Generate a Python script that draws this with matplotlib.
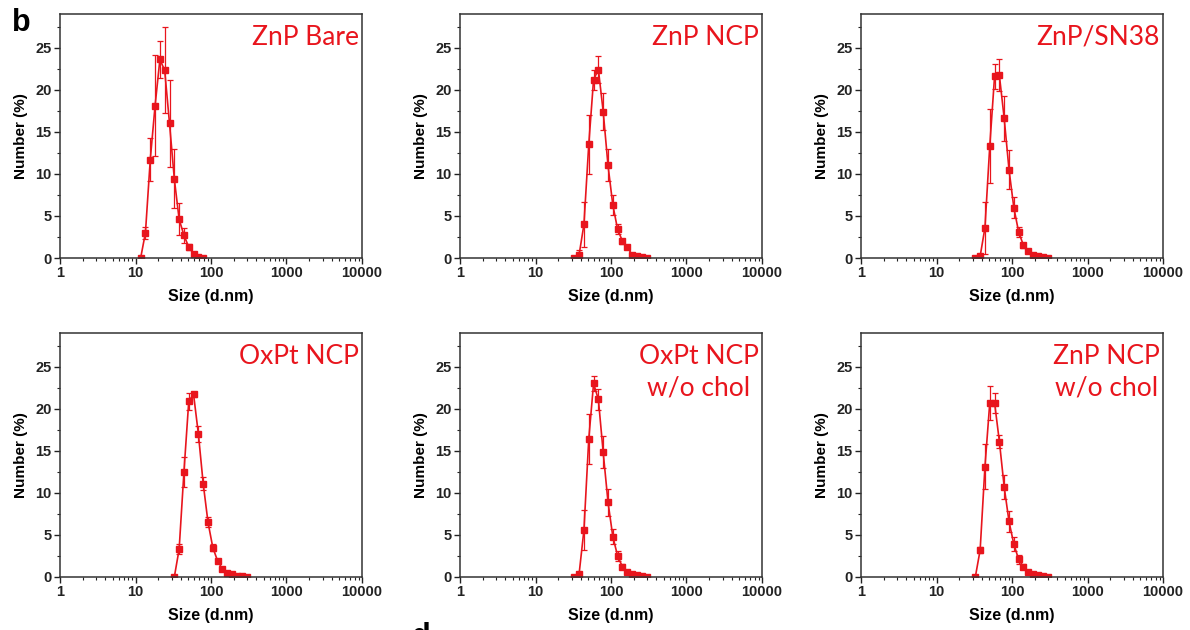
import matplotlib
matplotlib.use("Agg")
import matplotlib.pyplot as plt
from matplotlib.ticker import LogLocator, FixedLocator, NullFormatter

plt.rcParams['font.family'] = ['Liberation Sans', 'DejaVu Sans']

# hydrodynamic size bins (d.nm)
size_bare = [11.7, 13.54, 15.69, 18.17, 21.04, 24.36, 28.21, 32.67, 37.84, 43.82, 50.75, 58.77, 68.06, 78.82]
size_ncp = [32.67, 37.84, 43.82, 50.75, 58.77, 68.06, 78.82, 91.28, 105.7, 122.4, 141.8, 164.2, 190.1, 220.2, 255.0, 295.3]

# number distributions (%) and error bars
num_bare = [0, 3.0, 11.7, 18.1, 23.6, 22.3, 16.0, 9.4, 4.6, 2.7, 1.3, 0.5, 0.1, 0.05]
err_bare = [0, 0.7, 2.6, 6.0, 2.2, 5.1, 5.2, 3.5, 1.9, 0.9, 0.4, 0.2, 0.1, 0.05]

num_znp_ncp = [0, 0.4, 4.0, 13.5, 21.2, 22.4, 17.4, 11.0, 6.3, 3.4, 2.0, 1.3, 0.4, 0.25, 0.1, 0.05]
err_znp_ncp = [0, 0.6, 2.7, 3.5, 1.2, 1.6, 2.2, 1.9, 1.2, 0.6, 0.3, 0.2, 0.1, 0.05, 0.05, 0]

num_sn38 = [0, 0.2, 3.6, 13.3, 21.6, 21.7, 16.6, 10.5, 6.0, 3.1, 1.5, 0.8, 0.4, 0.25, 0.1, 0.05]
err_sn38 = [0, 0.3, 3.1, 4.4, 1.5, 1.9, 2.7, 2.3, 1.2, 0.6, 0.3, 0.2, 0.1, 0.05, 0.05, 0]

num_oxpt = [0, 3.3, 12.5, 20.9, 21.7, 17.0, 11.1, 6.5, 3.5, 1.9, 0.95, 0.5, 0.3, 0.15, 0.1, 0.05]
err_oxpt = [0, 0.6, 1.8, 1.0, 0.3, 1.0, 0.8, 0.6, 0.4, 0.2, 0.1, 0.1, 0.05, 0.05, 0, 0]

num_oxpt_nochol = [0, 0.4, 5.6, 16.4, 23.0, 21.1, 14.8, 8.9, 4.8, 2.5, 1.2, 0.6, 0.3, 0.2, 0.1, 0.05]
err_oxpt_nochol = [0, 0.2, 2.4, 3.0, 0.9, 1.2, 1.9, 1.6, 0.9, 0.6, 0.3, 0.1, 0.05, 0.05, 0, 0]

num_znp_nochol = [0, 3.2, 13.1, 20.7, 20.7, 16.1, 10.7, 6.6, 3.9, 2.1, 1.2, 0.6, 0.35, 0.2, 0.1, 0.05]
err_znp_nochol = [0, 0.4, 2.7, 2.0, 1.2, 0.8, 1.4, 1.2, 0.8, 0.5, 0.3, 0.1, 0.05, 0.05, 0, 0]

labels = ['ZnP Bare', 'ZnP NCP', 'ZnP/SN38', 'OxPt NCP', 'OxPt NCP\nw/o chol', 'ZnP NCP\nw/o chol']
xticks = [1, 10, 100, 1000, 10000]
xtick_labels = ['1', '10', '100', '1000', '10000']
yticks = [0, 5, 10, 15, 20, 25]

panels = [
    (size_bare, num_bare, err_bare),
    (size_ncp, num_znp_ncp, err_znp_ncp),
    (size_ncp, num_sn38, err_sn38),
    (size_ncp, num_oxpt, err_oxpt),
    (size_ncp, num_oxpt_nochol, err_oxpt_nochol),
    (size_ncp, num_znp_nochol, err_znp_nochol),
]

red = '#e8151d'
W, H = 1190, 630
fig = plt.figure(figsize=(W / 100, H / 100), dpi=100)

lefts = [60, 460, 861]
tops = [14, 333]
ax_w, ax_h = 302, 244

for i, (x, y, e) in enumerate(panels):
    r, c = divmod(i, 3)
    ax = fig.add_axes([lefts[c] / W, 1 - (tops[r] + ax_h) / H, ax_w / W, ax_h / H])
    ax.errorbar(x, y, yerr=e, color=red, lw=1.2, marker='s', ms=4.5,
                elinewidth=0.9, capsize=2.5, capthick=0.9)
    ax.set_xscale('log')
    ax.set_xlim(1, 10000)
    ax.set_ylim(0, 29)
    ax.xaxis.set_major_locator(FixedLocator(xticks))
    ax.set_xticklabels(xtick_labels)
    ax.xaxis.set_minor_locator(LogLocator(base=10, subs=range(2, 10)))
    ax.xaxis.set_minor_formatter(NullFormatter())
    ax.set_yticks(yticks)
    ax.yaxis.set_minor_locator(FixedLocator([2.5, 7.5, 12.5, 17.5, 22.5, 27.5]))
    ax.tick_params(which='major', direction='out', length=4, width=1, colors='#222222',
                   labelsize=10.5, pad=2)
    ax.tick_params(which='minor', direction='out', length=2, width=0.8, colors='#222222')
    for lab in ax.get_xticklabels() + ax.get_yticklabels():
        lab.set_fontweight('bold')
    for s in ax.spines.values():
        s.set_color('#333333')
        s.set_linewidth(1.1)
    ax.set_xlabel('Size (d.nm)', fontsize=11.5, fontweight='bold', labelpad=6)
    ax.set_ylabel('Number (%)', fontsize=11, fontweight='bold', labelpad=5)
    ax.text(0.99, 0.955, labels[i], transform=ax.transAxes, ha='right', va='top',
            multialignment='center', color=red, fontsize=19, family='Lato',
            linespacing=1.35)

fig.text(12 / W, 1 - 8 / H, 'b', fontsize=22, fontweight='bold', va='top', ha='left')
# panel letter of the next figure part, cut by the lower edge as in the source
fig.text(412 / W, 1 - 622 / H, 'd', fontsize=22, fontweight='bold', va='top', ha='left')

fig.savefig('out.png', dpi=100)
